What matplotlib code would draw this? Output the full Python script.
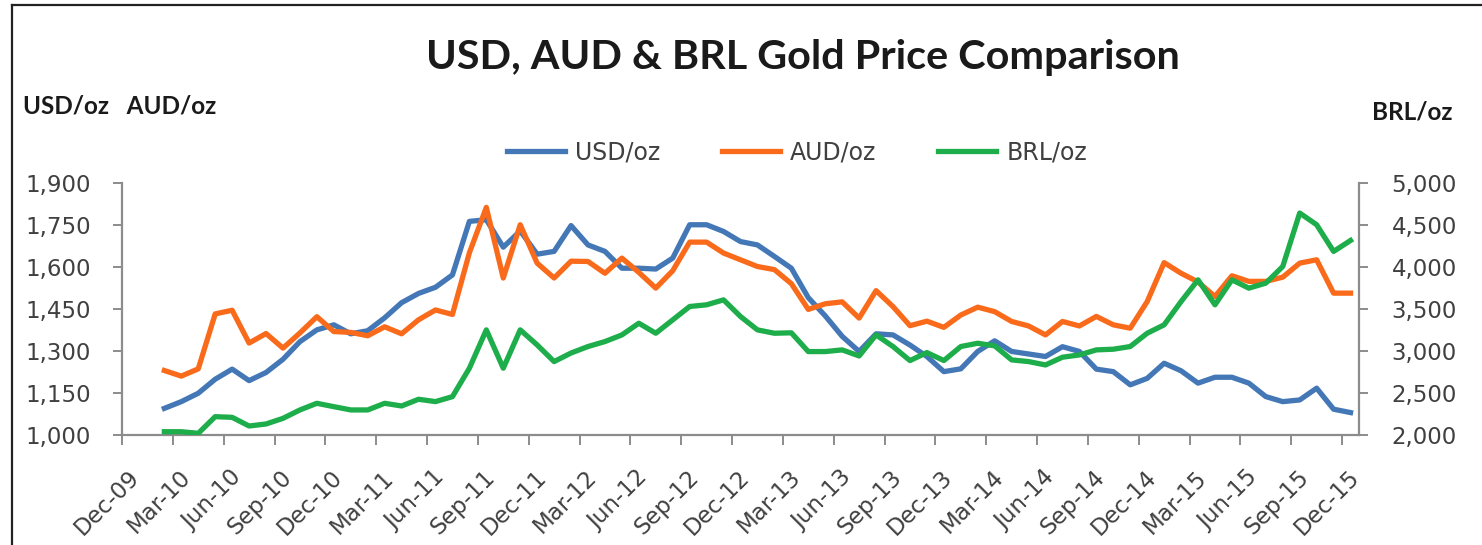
import numpy as np
import matplotlib
matplotlib.use("Agg")
import matplotlib.pyplot as plt
from matplotlib.lines import Line2D
from matplotlib.transforms import ScaledTranslation

# ---------------- data (monthly, Feb-10 .. Dec-15) ----------------
usd = [1095, 1119, 1149, 1199, 1235, 1194, 1223, 1270, 1333, 1375, 1393, 1361,
       1372, 1418, 1472, 1505, 1527, 1571, 1762, 1768, 1670, 1728, 1645, 1655,
       1747, 1678, 1655, 1595, 1595, 1592, 1631, 1750, 1750, 1726, 1690, 1678,
       1637, 1595, 1490, 1425, 1352, 1298, 1361, 1357, 1321, 1280, 1226, 1236,
       1298, 1336, 1298, 1289, 1280, 1315, 1298, 1235, 1226, 1179, 1202, 1256,
       1229, 1185, 1206, 1206, 1185, 1137, 1119, 1125, 1167, 1092, 1080]
aud = [1230, 1210, 1236, 1432, 1445, 1328, 1362, 1310, 1364, 1422, 1369, 1366,
       1354, 1386, 1361, 1411, 1446, 1430, 1650, 1812, 1560, 1750, 1613, 1560,
       1620, 1619, 1577, 1631, 1580, 1524, 1586, 1688, 1688, 1649, 1625, 1601,
       1590, 1540, 1448, 1468, 1475, 1417, 1515, 1458, 1390, 1406, 1384, 1428,
       1456, 1440, 1405, 1389, 1357, 1405, 1389, 1423, 1393, 1381, 1476, 1615,
       1577, 1546, 1494, 1568, 1548, 1548, 1563, 1613, 1625, 1506, 1506]
brl = [2039, 2039, 2020, 2218, 2210, 2107, 2131, 2198, 2298, 2377, 2337, 2298,
       2298, 2377, 2345, 2425, 2397, 2456, 2794, 3250, 2794, 3250, 3071, 2873,
       2975, 3052, 3111, 3190, 3329, 3210, 3369, 3528, 3548, 3607, 3409, 3250,
       3210, 3215, 2992, 2992, 3012, 2940, 3190, 3052, 2885, 2980, 2885, 3052,
       3091, 3060, 2893, 2873, 2833, 2925, 2952, 3012, 3020, 3052, 3210, 3310,
       3587, 3845, 3548, 3845, 3746, 3806, 4004, 4639, 4500, 4183, 4313]
series_names = ["USD/oz", "AUD/oz", "BRL/oz"]
tick_labels = ["Dec-09", "Mar-10", "Jun-10", "Sep-10", "Dec-10", "Mar-11", "Jun-11",
               "Sep-11", "Dec-11", "Mar-12", "Jun-12", "Sep-12", "Dec-12", "Mar-13",
               "Jun-13", "Sep-13", "Dec-13", "Mar-14", "Jun-14", "Sep-14", "Dec-14",
               "Mar-15", "Jun-15", "Sep-15", "Dec-15"]
first_month = 2          # Feb-10 is 2 months after Dec-09
left_ticks = [1000, 1150, 1300, 1450, 1600, 1750, 1900]
right_ticks = [2000, 2500, 3000, 3500, 4000, 4500, 5000]

C_USD = "#4477B6"
C_AUD = "#F96B1B"
C_BRL = "#1EAD4B"
SPINE = "#8C8C8C"
TXT = "#404040"

W, H = 1482, 545
fig = plt.figure(figsize=(W / 100, H / 100), dpi=100)
fig.patch.set_facecolor("white")

ax = fig.add_axes([122 / W, 1 - 435 / H, (1359 - 122) / W, (435 - 182.7) / H])
ax2 = ax.twinx()

x = np.arange(len(usd)) + first_month + 0.5
lw = 3.8
l1, = ax.plot(x, usd, color=C_USD, lw=lw, solid_joinstyle="round", label=series_names[0])
l2, = ax.plot(x, aud, color=C_AUD, lw=lw, solid_joinstyle="round", label=series_names[1])
l3, = ax2.plot(x, brl, color=C_BRL, lw=lw, solid_joinstyle="round", label=series_names[2])

ax.set_xlim(0, len(usd) + first_month)
ax.set_ylim(1000, 1900)
ax2.set_ylim(2000, 5000)
ax.set_yticks(left_ticks)
ax.set_yticklabels([f"{v:,}" for v in left_ticks])
ax2.set_yticks(right_ticks)
ax2.set_yticklabels([f"{v:,}" for v in right_ticks])
ax.set_xticks(np.arange(len(tick_labels)) * 3)
ax.set_xticklabels(tick_labels, rotation=45, ha="right", va="center",
                   rotation_mode="anchor")

for a in (ax, ax2):
    a.spines["top"].set_visible(False)
    for s in ("left", "right", "bottom"):
        a.spines[s].set_color(SPINE)
        a.spines[s].set_linewidth(1.6)
    a.set_facecolor("none")

ax.spines["right"].set_visible(False)
ax2.spines["left"].set_visible(False)
ax2.spines["bottom"].set_visible(False)

ax.tick_params(axis="y", direction="out", length=6.5, width=1.4, color=SPINE,
               labelsize=16.5, labelcolor=TXT, pad=16)
ax2.tick_params(axis="y", direction="out", length=6.5, width=1.4, color=SPINE,
                labelsize=16.5, labelcolor=TXT, pad=17)
ax.tick_params(axis="x", direction="out", length=7, width=1.4, color=SPINE,
               labelsize=16.5, labelcolor=TXT, pad=21)
offset = ScaledTranslation(14 / 100, 0, fig.dpi_scale_trans)
for lab in ax.get_xticklabels():
    lab.set_transform(lab.get_transform() + offset)

# Title and axis unit labels
fig.text(803 / W, 1 - 58 / H, "USD, AUD & BRL Gold Price Comparison",
         ha="center", va="center", fontsize=29.8, fontweight="bold",
         family="Lato", color="#1a1a1a")
fig.text(23 / W, 1 - 106 / H, "USD/oz   AUD/oz", ha="left", va="center",
         fontsize=17.5, fontweight="bold", family="Lato", color="#1a1a1a")
fig.text(1453 / W, 1 - 112 / H, "BRL/oz", ha="right", va="center",
         fontsize=17.5, fontweight="bold", family="Lato", color="#1a1a1a")

# Legend
leg = fig.legend([l1, l2, l3], series_names, loc="center",
                 bbox_to_anchor=(797 / W, 1 - 152 / H), ncol=3, frameon=False,
                 fontsize=17, handlelength=2.45, columnspacing=2.6,
                 handletextpad=0.45)
for t in leg.get_texts():
    t.set_color(TXT)

# Outer border (top and left edges visible)
fig.add_artist(Line2D([12 / W, 12 / W], [0, 1 - 5 / H], transform=fig.transFigure,
                      color="#222222", lw=1.6))
fig.add_artist(Line2D([12 / W, 1], [1 - 5 / H, 1 - 5 / H], transform=fig.transFigure,
                      color="#222222", lw=1.6))

fig.savefig("out.png", dpi=100, facecolor="white")
